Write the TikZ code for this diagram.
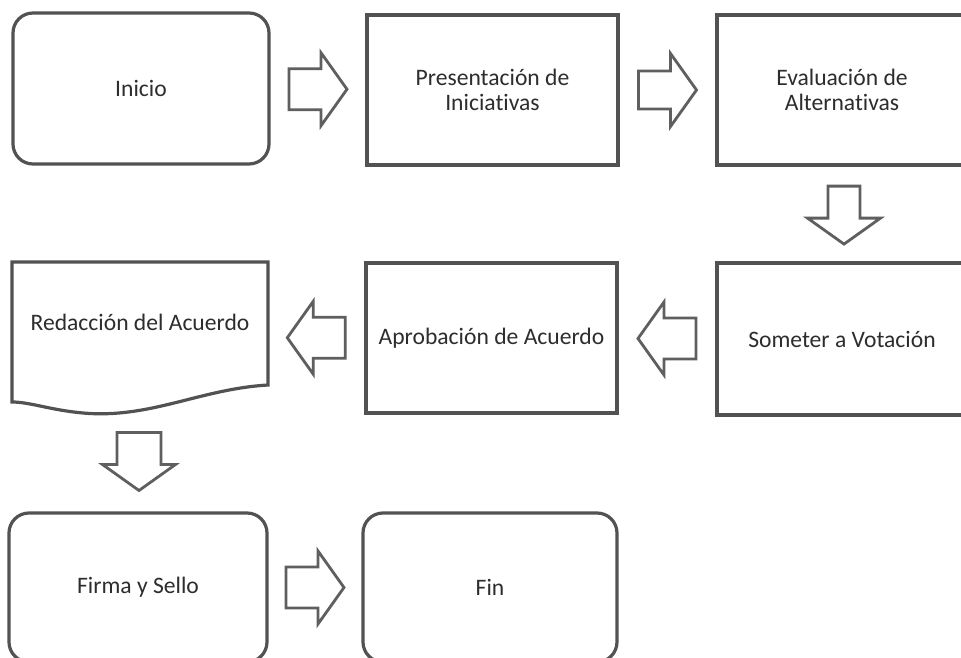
\documentclass[tikz,border=0pt]{standalone}
\usepackage{fontspec}
\setmainfont{Carlito}[RawFeature={-liga;-clig;-calt;-dlig}]
\usetikzlibrary{calc}
\definecolor{edge}{RGB}{82,82,82}
\definecolor{arrowedge}{RGB}{95,95,95}
\definecolor{ink}{RGB}{45,45,45}
\tikzset{
  boxbase/.style={draw=edge, line width=3.2pt, fill=white, text=ink, align=center,
    inner sep=0pt, font=\fontsize{23.6}{25.5}\selectfont},
  sqbox/.style={boxbase, rectangle},
  rdbox/.style={boxbase, rectangle, rounded corners=20pt},
  txt/.style={text=ink, align=center, inner sep=0pt, font=\fontsize{23.6}{25.5}\selectfont},
  pics/barrow/.style={code={
    \draw[draw=arrowedge, line width=2.8pt, fill=white, line join=miter]
      (-29,-#1) -- (3,-#1) -- (3,-36.5) -- (29,0) -- (3,36.5) -- (3,#1) -- (-29,#1) -- cycle;
  }}
}
\begin{document}
\begin{tikzpicture}[x=1pt,y=-1pt]
\useasboundingbox (0,0) rectangle (961,658);
\fill[white] (0,0) rectangle (961,658);
\clip (0,0) rectangle (961,658);
% row 1
\node[rdbox, minimum width=256pt, minimum height=151pt] (inicio) at (141,88.5) {Inicio};
\node[sqbox, minimum width=251pt, minimum height=150pt] (pres) at (492.5,90) {Presentación de\\Iniciativas};
\node[sqbox, minimum width=250pt, minimum height=150pt] (eval) at (842,90) {Evaluación de\\Alternativas};
% row 2
\node[sqbox, minimum width=250pt, minimum height=152pt] (som) at (842,339) {Someter a Votación};
\node[sqbox, minimum width=251pt, minimum height=150pt] (aprob) at (491.5,338) {Aprobación de Acuerdo};
\node[minimum width=256pt, minimum height=151pt, inner sep=0pt] (red) at (140,337.5) {};
\draw[draw=edge, line width=3.2pt, fill=white, line join=miter]
  (12,262) -- (268,262) -- (268,385)
  .. controls (200,389) and (150,419) .. (83,413)
  .. controls (50,410) and (30,402) .. (12,402) -- cycle;
\node[txt] (redtext) at ([yshift=15.5pt]red.center) {Redacción del Acuerdo};
% row 3
\node[rdbox, minimum width=258pt, minimum height=149pt] (firma) at (138,587.5) {Firma y Sello};
\node[rdbox, minimum width=254pt, minimum height=149pt] (fin) at (490,587.5) {Fin};
% block arrows
\pic at ($(inicio.east)!0.5!(pres.west)$) {barrow=20.5};
\pic at ($(pres.east)!0.5!(eval.west)$) {barrow=19};
\pic[rotate=-90] at ($(eval.south)+(2,48.5)$) {barrow=16};
\pic[rotate=180] at ($(som.west)!0.5!(aprob.east)$) {barrow=20.5};
\pic[rotate=180] at ($(aprob.west)!0.5!(red.east)$) {barrow=20.5};
\pic[rotate=-90] at ($(red.center)+(-1,124)$) {barrow=22};
\pic at ($(firma.east)!0.5!(fin.west)$) {barrow=20.5};
\end{tikzpicture}
\end{document}
